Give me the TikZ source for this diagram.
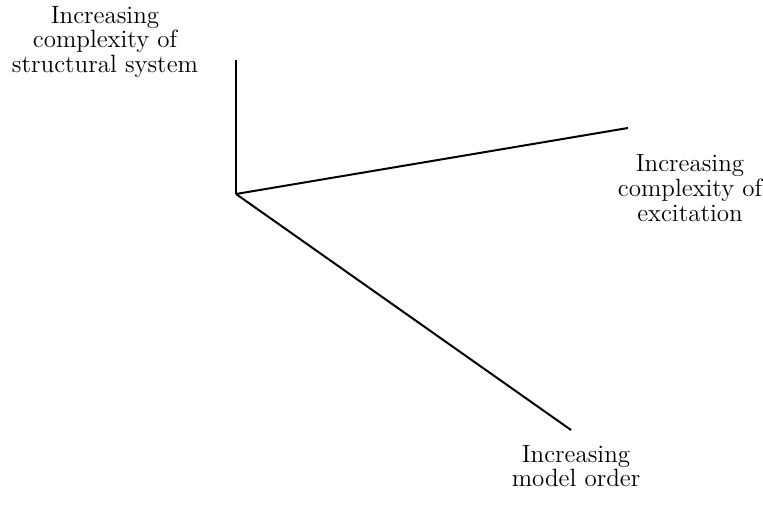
\documentclass[tikz,border=0pt]{standalone}
\usepackage{tikz}
\usetikzlibrary{positioning}

\begin{document}
\begin{tikzpicture}[x=0.5pt,y=-0.5pt,line width=1pt,
  axislabel/.style={align=center,font=\fontsize{12.5}{12.3}\selectfont,inner sep=0pt}]
  \useasboundingbox (0,0) rectangle (763,506);

  \coordinate (origin)    at (236,194);
  \coordinate (structure) at (236,60);
  \coordinate (excite)    at (628,128);
  \coordinate (order)     at (571,430);

  \node[axislabel] (structlabel) at (105,42)  {Increasing\\complexity of\\structural system};
  \node[axislabel] (excitelabel) at (690,188) {Increasing\\complexity of\\excitation};
  \node[axislabel] (orderlabel)  at (576,466) {Increasing\\model order};

  \draw (origin) -- (structure);
  \draw (origin) -- (excite);
  \draw (origin) -- (order);

\end{tikzpicture}
\end{document}
